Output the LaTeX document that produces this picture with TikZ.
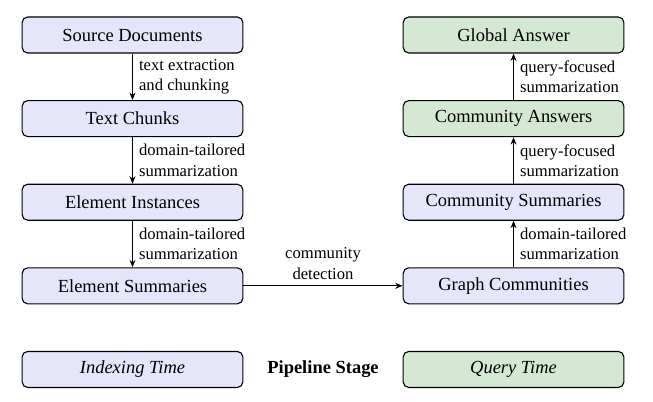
\documentclass[tikz,border=0pt]{standalone}
\usepackage{fontspec}
\setmainfont{Liberation Serif}
\usetikzlibrary{arrows.meta, positioning}

\definecolor{idxblue}{RGB}{230,230,250}
\definecolor{qrygreen}{RGB}{213,232,212}

\begin{document}
\begin{tikzpicture}[
        stagebox/.style={draw, semithick, rounded corners=3pt, minimum width=4.2cm, minimum height=0.685cm, font=\fontsize{10}{12}\selectfont},
        idxbox/.style={stagebox, fill=idxblue},
        qrybox/.style={stagebox, fill=qrygreen},
        flow/.style={-{Stealth[length=4pt, width=3.2pt]}, line width=0.5pt},
        steplabel/.style={font=\small, align=left, right},
        node distance=0.885cm
    ]
    \useasboundingbox (0,0) rectangle (12.426,7.631);

    % Lado de indexado
    \node[idxbox] (srcdocs) at (2.521,6.965) {Source Documents};
    \node[idxbox, below=of srcdocs] (chunks) {Text Chunks};
    \node[idxbox, below=of chunks] (instances) {Element Instances};
    \node[idxbox, below=of instances] (elemsumm) {Element Summaries};

    % Lado de consulta
    \node[idxbox, right=3.03cm of elemsumm] (graphcomm) {Graph Communities};
    \node[idxbox, above=of graphcomm] (commsumm) {Community Summaries};
    \node[qrybox, above=of commsumm] (commans) {Community Answers};
    \node[qrybox, above=of commans] (globalans) {Global Answer};

    % Leyenda
    \node[idxbox, below=of elemsumm] (idxtime) {\itshape Indexing Time};
    \node[qrybox, below=of graphcomm] (qrytime) {\itshape Query Time};
    \path (idxtime) -- (qrytime) node[midway, font=\bfseries] (stage) {Pipeline Stage};

    % Flechas
    \draw[flow] (srcdocs) -- (chunks) node[steplabel, midway] {text extraction\\and chunking};
    \draw[flow] (chunks) -- (instances) node[steplabel, midway] {domain-tailored\\summarization};
    \draw[flow] (instances) -- (elemsumm) node[steplabel, midway] {domain-tailored\\summarization};
    \draw[flow] (elemsumm) -- (graphcomm) node[midway, above, font=\small, align=center] {community\\detection};
    \draw[flow] (graphcomm) -- (commsumm) node[steplabel, midway] {domain-tailored\\summarization};
    \draw[flow] (commsumm) -- (commans) node[steplabel, midway] {query-focused\\summarization};
    \draw[flow] (commans) -- (globalans) node[steplabel, midway] {query-focused\\summarization};
\end{tikzpicture}
\end{document}
